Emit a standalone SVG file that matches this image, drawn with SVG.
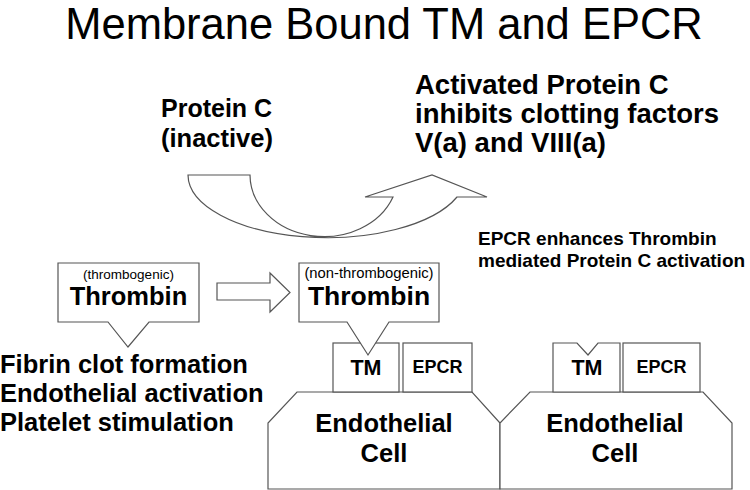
<svg xmlns="http://www.w3.org/2000/svg" width="750" height="490" viewBox="0 0 750 490">
<style>
.s{fill:#fff;stroke:#555;stroke-width:1.2}
.t{font-family:"Liberation Sans",Arial,sans-serif;fill:#000}
.b{font-weight:bold}
</style>
<rect width="750" height="490" fill="#fff"/>
<text class="t" x="384" y="39" font-size="43.5" text-anchor="middle">Membrane Bound TM and EPCR</text>

<g id="proteinC">
<text class="t b" x="161" y="117" font-size="25">Protein C</text>
<text class="t b" x="161" y="147" font-size="25.5">(inactive)</text>
</g>
<g id="apc">
<text class="t b" x="415" y="94" font-size="27.5">Activated Protein C</text>
<text class="t b" x="415" y="123" font-size="27.5">inhibits clotting factors</text>
<text class="t b" x="415" y="152" font-size="27.5">V(a) and VIII(a)</text>
</g>
<g id="epcrNote">
<text class="t b" x="478" y="245" font-size="19">EPCR enhances Thrombin</text>
<text class="t b" x="478" y="267" font-size="19">mediated Protein C activation</text>
</g>
<g id="effects">
<text class="t b" x="0" y="373" font-size="25.5">Fibrin clot formation</text>
<text class="t b" x="0" y="402" font-size="25.5">Endothelial activation</text>
<text class="t b" x="0" y="431" font-size="25.5">Platelet stimulation</text>
</g>

<g id="connectors">
<path class="s" d="M188,175 L250,175 A74,62 0 0 0 393,197 L365,197 L432,175 L487,197 L457,197 A139,63 0 0 1 188,175 Z"/>
<path class="s" d="M217,283 H270 V273 L290,292.5 L270,312 V300 H217 Z"/>
</g>

<g id="cell1">
<path class="s" d="M268,489 V423 L297,392 H472 L500,423 V489 Z"/>
<text class="t b" x="384" y="432" font-size="25.5" text-anchor="middle">Endothelial</text>
<text class="t b" x="384" y="462" font-size="25.5" text-anchor="middle">Cell</text>
</g>
<g id="cell2">
<path class="s" d="M500,489 V423 L530,392 H703 L732,423 V489 Z"/>
<text class="t b" x="615" y="432" font-size="25.5" text-anchor="middle">Endothelial</text>
<text class="t b" x="615" y="462" font-size="25.5" text-anchor="middle">Cell</text>
</g>
<g id="tm1">
<rect class="s" x="333" y="343" width="66" height="49"/>
<text class="t b" x="366" y="375" font-size="21.5" text-anchor="middle">TM</text>
</g>
<g id="epcr1">
<rect class="s" x="403" y="343" width="69" height="49"/>
<text class="t b" x="437.5" y="373" font-size="18" text-anchor="middle">EPCR</text>
</g>
<g id="tm2">
<path class="s" d="M553,392 V343 H577 L588,355 L598,343 H620 V392 Z"/>
<text class="t b" x="587" y="375" font-size="21.5" text-anchor="middle">TM</text>
</g>
<g id="epcr2">
<rect class="s" x="623" y="343" width="77" height="49"/>
<text class="t b" x="661.5" y="373" font-size="18" text-anchor="middle">EPCR</text>
</g>

<g id="thrombin1">
<path class="s" d="M58,263 H199 V322 H149 L128,347 L108,322 H58 Z"/>
<text class="t" x="128.5" y="279" font-size="13.5" text-anchor="middle">(thrombogenic)</text>
<text class="t b" x="128.5" y="305" font-size="25.5" text-anchor="middle">Thrombin</text>
</g>
<g id="thrombin2">
<path class="s" d="M299,263 H439 V322 H389 L368,355 L347,322 H299 Z"/>
<text class="t" x="369" y="278" font-size="14.8" text-anchor="middle">(non-thrombogenic)</text>
<text class="t b" x="369" y="305" font-size="26.5" text-anchor="middle">Thrombin</text>
</g>
</svg>
